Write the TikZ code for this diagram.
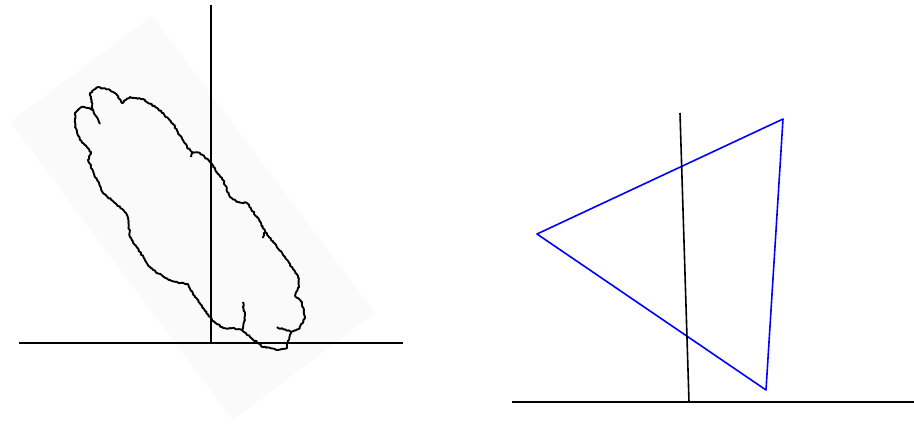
\documentclass[tikz,border=0pt]{standalone}
\usepackage{tikz}
\usetikzlibrary{decorations.pathmorphing}

\begin{document}
\begin{tikzpicture}[x=1pt, y=-1pt,
    axis/.style={black, line width=1.6pt},
    blob/.style={black, line width=1.9pt, line join=round,
                 decorate, decoration={random steps, segment length=1.6pt, amplitude=0.7pt}},
    tri/.style={blue, line width=1.6pt, line join=round}]
  \useasboundingbox (0,0) rectangle (914,424);
  \pgfmathsetseed{11}
  % left: rotated frame, outline and axes
  \fill[black!2] (152,16) -- (375,313) -- (233,420) -- (10,122) -- cycle;
  \draw[blob] (100,124) -- (93,110) -- (90,93) -- (98,87) -- (110,90) -- (117,95)
    -- (122,103) -- (130,97) -- (143,99) -- (157,108) -- (163,113) -- (173,124)
    -- (187,147) -- (192,152) -- (200,153) -- (210,162) -- (223,180) -- (230,197)
    -- (237,202) -- (247,203) -- (257,217) -- (265,231) -- (273,242) -- (285,257)
    -- (298,276) -- (299,287) -- (295,296) -- (302,302) -- (305,317) -- (300,328)
    -- (291,332) -- (288,341) -- (287,348) -- (277,350) -- (263,347) -- (250,337)
    -- (242,330) -- (233,328) -- (223,328) -- (212,320) -- (195,297) -- (188,284)
    -- (180,283) -- (170,280) -- (157,273) -- (150,267) -- (135,245) -- (130,237)
    -- (128,218) -- (126,213) -- (115,203) -- (103,193) -- (97,180) -- (88,160)
    -- (91,152) -- (80,140) -- (75,127) -- (75,113) -- (82,107) -- (88,108)
    -- (93,110);
  \draw[blob] (192,152) -- (191,157);
  \draw[blob] (265,231) -- (263,238);
  \draw[blob] (242,330) -- (245,320) -- (243,302);
  \draw[blob] (291,332) -- (277,327);
  \draw[axis] (211,5) -- (211,343);
  \draw[axis] (19,343) -- (403,343);
  % right: triangle and tilted axes
  \coordinate (top) at (783,119);
  \coordinate (lft) at (537,234);
  \coordinate (bot) at (766,390);
  \draw[tri] (top) -- (lft) -- (bot) -- cycle;
  \draw[axis] (680,113) -- (689,402);
  \draw[axis] (512,402) -- (914,402);
\end{tikzpicture}
\end{document}
